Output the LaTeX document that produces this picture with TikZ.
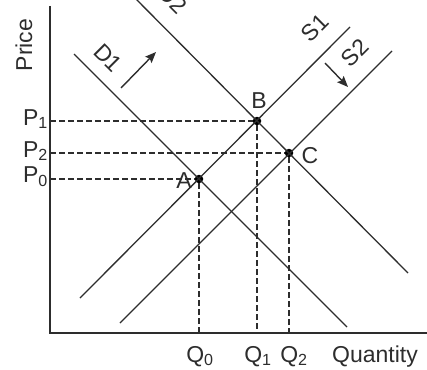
\documentclass[tikz,border=0pt]{standalone}
\usepackage{fontspec}
\setmainfont{Liberation Sans}
\usepackage{tikz}
\usetikzlibrary{arrows.meta}
\definecolor{curvegray}{RGB}{45,45,45}

\begin{document}
\begin{tikzpicture}[
            x=1pt, y=-1pt,
            axis/.style={line width=2.4pt, curvegray},
            curve/.style={line width=1.3pt, curvegray},
            guide/.style={line width=1.8pt, curvegray, dash pattern=on 6pt off 3pt},
            shiftarrow/.style={line width=1.4pt, curvegray, -{Stealth[length=11pt, width=9pt, inset=2pt]}},
            dot/.style={circle, fill=black, inner sep=0pt, minimum size=8.5pt},
            lbl/.style={font=\fontsize{23}{27}\selectfont, text=curvegray, inner sep=0pt}
        ]
            \useasboundingbox (0,0) rectangle (427,369);

            % axes
            \coordinate (origin) at (50,333);
            \coordinate (ytop) at (50,6);
            \coordinate (xend) at (427,333);
            \draw[axis] (ytop) -- (origin) -- (xend);

            % equilibrium points
            \node[dot] (A) at (199,179) {};
            \node[dot] (B) at (257,121) {};
            \node[dot] (C) at (289,153) {};

            % demand and supply curves
            \coordinate (d1a) at (74,54);    \coordinate (d1b) at (347,327);
            \coordinate (d2a) at (130,-7);   \coordinate (d2b) at (408,273);
            \coordinate (s1a) at (80,298);   \coordinate (s1b) at (350,27);
            \coordinate (s2a) at (120,323);  \coordinate (s2b) at (392,51);
            \draw[curve] (d1a) -- (d1b);
            \draw[curve] (d2a) -- (d2b);
            \draw[curve] (s1a) -- (s1b);
            \draw[curve] (s2a) -- (s2b);

            % guide lines to the axes
            \coordinate (p0) at (50,179);  \coordinate (q0) at (199,333);
            \coordinate (p1) at (50,121);  \coordinate (q1) at (257,333);
            \coordinate (p2) at (50,153);  \coordinate (q2) at (289,333);
            \draw[guide] (p1) -- (B) -- (q1);
            \draw[guide] (p2) -- (C) -- (q2);
            \draw[guide] (p0) -- (A) -- (q0);

            % shift arrows
            \coordinate (dfrom) at (121,88);  \coordinate (dto) at (156,52);
            \coordinate (sfrom) at (325,63);  \coordinate (sto) at (348,87);
            \draw[shiftarrow] (dfrom) -- (dto);
            \draw[shiftarrow] (sfrom) -- (sto);

            % labels
            \node[lbl, rotate=90] (price) at (24,45) {Price};
            \node[lbl, anchor=base west] (qty) at (332,362) {Quantity};
            \node[lbl, anchor=east] (lp1) at (48,119) {P\textsubscript{1}};
            \node[lbl, anchor=east] (lp2) at (48,151) {P\textsubscript{2}};
            \node[lbl, anchor=east] (lp0) at (48,177) {P\textsubscript{0}};
            \node[lbl, anchor=base] (lq0) at (200,362) {Q\textsubscript{0}};
            \node[lbl, anchor=base] (lq1) at (258,362) {Q\textsubscript{1}};
            \node[lbl, anchor=base] (lq2) at (294,362) {Q\textsubscript{2}};
            \node[lbl] (la) at (184,181) {A};
            \node[lbl] (lb) at (259,101) {B};
            \node[lbl] (lc) at (310,156) {C};
            \node[lbl, rotate=-45] (ld1) at (108,58) {D1};
            \node[lbl, rotate=-45] (ld2) at (173,-1) {D2};
            \node[lbl, rotate=45] (ls1) at (315,28) {S1};
            \node[lbl, rotate=45] (ls2) at (355,53) {S2};
        \end{tikzpicture}
\end{document}
